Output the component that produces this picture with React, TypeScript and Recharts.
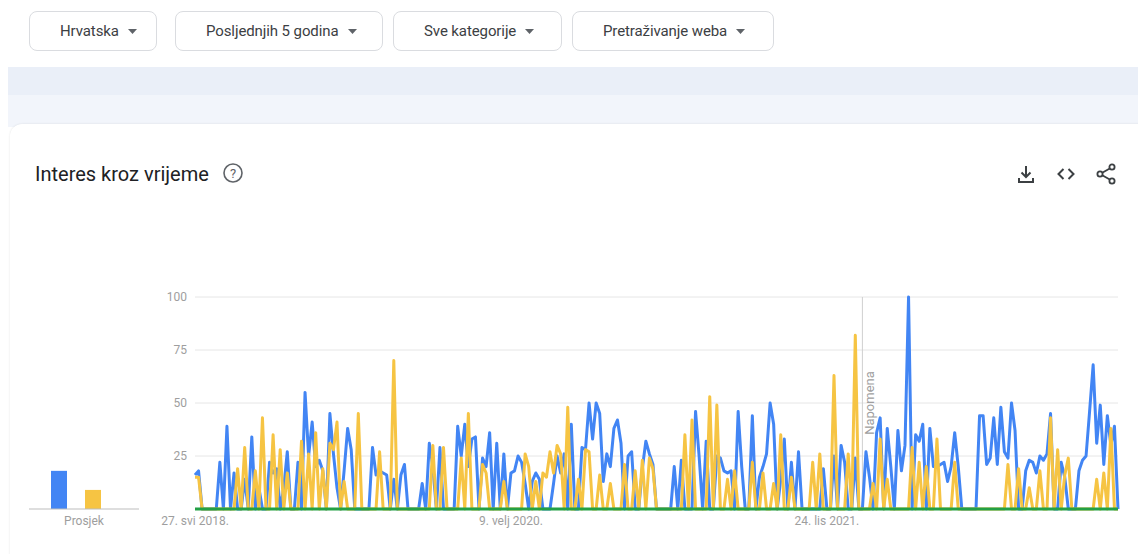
import React from "react";
import { LineChart, Line, XAxis, YAxis, CartesianGrid, ReferenceLine, BarChart, Bar } from "recharts";

// ---- data (weekly, 27 May 2018 onward) ----
const blueValues = [
  16, 18, 0, 0, 0, 0, 0, 22, 0, 39,
  0, 17, 0, 0, 14, 0, 34, 0, 10, 0,
  0, 22, 17, 19, 0, 10, 27, 0, 0, 22,
  0, 55, 25, 41, 20, 23, 18, 0, 45, 26,
  10, 0, 18, 38, 28, 0, 0, 0, 0, 0,
  29, 16, 18, 17, 16, 0, 14, 0, 16, 21,
  0, 0, 0, 0, 12, 0, 31, 20, 0, 29,
  0, 0, 0, 0, 39, 25, 40, 20, 33, 34,
  0, 24, 20, 36, 0, 31, 0, 26, 0, 17,
  18, 25, 22, 12, 0, 13, 17, 14, 0, 0,
  0, 12, 25, 17, 26, 0, 40, 0, 0, 29,
  28, 50, 33, 50, 45, 13, 26, 20, 38, 42,
  31, 0, 25, 27, 0, 0, 19, 32, 26, 21,
  0, 0, 0, 0, 0, 20, 0, 23, 0, 0,
  0, 46, 25, 0, 32, 0, 0, 25, 24, 18,
  17, 18, 0, 46, 20, 0, 0, 44, 0, 15,
  20, 26, 50, 40, 0, 14, 33, 0, 22, 0,
  27, 0, 0, 0, 0, 0, 0, 19, 0, 0,
  25, 0, 30, 22, 0, 0, 24, 0, 0, 27,
  15, 0, 36, 43, 0, 38, 20, 0, 37, 18,
  30, 100, 0, 35, 32, 40, 0, 38, 20, 20,
  21, 22, 13, 20, 36, 20, 0, 0, 0, 0,
  0, 44, 44, 21, 24, 43, 21, 48, 27, 24,
  50, 37, 0, 0, 18, 23, 22, 17, 25, 23,
  26, 45, 0, 0, 22, 15, 0, 0, 0, 18,
  23, 25, 46, 68, 31, 49, 21, 44, 30, 39,
  0,
];

const yellowValues = [
  15, 15, 0, 0, 0, 0, 0, 0, 0, 0,
  0, 0, 19, 0, 29, 0, 0, 18, 0, 43,
  0, 0, 35, 0, 28, 0, 17, 0, 0, 0,
  32, 0, 26, 0, 36, 0, 19, 0, 31, 28,
  41, 0, 13, 0, 0, 0, 45, 0, 0, 0,
  0, 0, 27, 0, 0, 0, 70, 0, 0, 0,
  0, 0, 0, 0, 0, 0, 0, 30, 0, 0,
  29, 0, 0, 0, 0, 24, 0, 45, 0, 0,
  0, 21, 17, 0, 0, 0, 0, 13, 0, 0,
  0, 0, 0, 26, 20, 0, 13, 0, 17, 15,
  27, 17, 30, 26, 0, 48, 0, 0, 14, 0,
  28, 27, 0, 0, 16, 0, 0, 12, 0, 0,
  0, 21, 0, 0, 18, 0, 23, 0, 24, 19,
  0, 0, 0, 0, 0, 0, 0, 0, 35, 0,
  42, 0, 0, 0, 0, 53, 0, 49, 0, 0,
  14, 0, 18, 0, 0, 0, 0, 22, 0, 0,
  17, 0, 0, 12, 0, 35, 0, 0, 15, 0,
  0, 0, 0, 0, 22, 0, 26, 0, 0, 0,
  63, 0, 0, 0, 26, 0, 82, 0, 0, 0,
  0, 12, 0, 33, 0, 14, 0, 0, 0, 0,
  0, 0, 29, 0, 22, 0, 20, 0, 0, 33,
  0, 0, 0, 0, 22, 0, 0, 0, 0, 0,
  0, 0, 0, 0, 0, 0, 0, 0, 0, 21,
  0, 0, 19, 0, 0, 10, 0, 0, 18, 0,
  0, 43, 0, 28, 0, 16, 24, 0, 0, 0,
  0, 0, 0, 0, 14, 0, 17, 0, 38, 0,
  0,
];

const greenValues = [
  0, 0, 0, 0, 0, 0, 0, 0, 0, 0,
  0, 0, 0, 0, 0, 0, 0, 0, 0, 0,
  0, 0, 0, 0, 0, 0, 0, 0, 0, 0,
  0, 0, 0, 0, 0, 0, 0, 0, 0, 0,
  0, 0, 0, 0, 0, 0, 0, 0, 0, 0,
  0, 0, 0, 0, 0, 0, 0, 0, 0, 0,
  0, 0, 0, 0, 0, 0, 0, 0, 0, 0,
  0, 0, 0, 0, 0, 0, 0, 0, 0, 0,
  0, 0, 0, 0, 0, 0, 0, 0, 0, 0,
  0, 0, 0, 0, 0, 0, 0, 0, 0, 0,
  0, 0, 0, 0, 0, 0, 0, 0, 0, 0,
  0, 0, 0, 0, 0, 0, 0, 0, 0, 0,
  0, 0, 0, 0, 0, 0, 0, 0, 0, 0,
  0, 0, 0, 0, 0, 0, 0, 0, 0, 0,
  0, 0, 0, 0, 0, 0, 0, 0, 0, 0,
  0, 0, 0, 0, 0, 0, 0, 0, 0, 0,
  0, 0, 0, 0, 0, 0, 0, 0, 0, 0,
  0, 0, 0, 0, 0, 0, 0, 0, 0, 0,
  0, 0, 0, 0, 0, 0, 0, 0, 0, 0,
  0, 0, 0, 0, 0, 0, 0, 0, 0, 0,
  0, 0, 0, 0, 0, 0, 0, 0, 0, 0,
  0, 0, 0, 0, 0, 0, 0, 0, 0, 0,
  0, 0, 0, 0, 0, 0, 0, 0, 0, 0,
  0, 0, 0, 0, 0, 0, 0, 0, 0, 0,
  0, 0, 0, 0, 0, 0, 0, 0, 0, 0,
  0, 0, 0, 0, 0, 0, 0, 0, 0, 0,
  0,
];

const xTickIndex = [0, 89, 178];
const xTickLabels = ["27. svi 2018.", "9. velj 2020.", "24. lis 2021."];
const yTicks = [25, 50, 75, 100];
const noteIndex = 188;
const noteLabel = "Napomena";

const averageCategories = ["Prosjek"];
const averageBlue = [18];
const averageYellow = [9];
const averageGreen = [0];

const filterLabels = ["Hrvatska", "Posljednjih 5 godina", "Sve kategorije", "Pretraživanje weba"];
const title = "Interes kroz vrijeme";

// ---- derived tables for the library ----
const lineData = blueValues.map((v, i) => ({
  week: i,
  blue: v,
  yellow: yellowValues[i],
  green: greenValues[i],
}));

const avgData = averageCategories.map((c, i) => ({
  name: c,
  blue: averageBlue[i],
  yellow: averageYellow[i],
  green: averageGreen[i],
}));

const BLUE = "#4285f4";
const YELLOW = "#f6c443";
const GREEN = "#23a045";
const FONT = "Roboto, 'Noto Sans', sans-serif";
const TICK_GRAY = "#9e9e9e";

const filterBoxes = [
  { left: 29, width: 128 },
  { left: 175, width: 208 },
  { left: 393, width: 169 },
  { left: 572, width: 202 },
];

const NoteLabel = (props: any) => {
  const vb = props.viewBox || {};
  const x = (vb.x || 0) + 12;
  const y = (vb.y || 0) + (vb.height || 0) / 2;
  return (
    <text
      x={x}
      y={y}
      transform={`rotate(-90 ${x} ${y})`}
      textAnchor="middle"
      fill="#9e9e9e"
      fontSize={13}
      fontFamily={FONT}
    >
      {noteLabel}
    </text>
  );
};

const Arrow = () => (
  <svg width="9" height="5" viewBox="0 0 9 5" style={{ display: "block" }}>
    <path d="M0 0 L9 0 L4.5 5 Z" fill="#5f6368" />
  </svg>
);

export default function App() {
  return (
    <div
      style={{
        position: "absolute",
        left: 0,
        top: 0,
        width: 1138,
        height: 554,
        background: "#ffffff",
        overflow: "hidden",
        fontFamily: FONT,
      }}
    >
      {/* filter dropdowns */}
      {filterLabels.map((label, i) => (
        <div
          key={label}
          style={{
            position: "absolute",
            left: filterBoxes[i].left,
            top: 11,
            width: filterBoxes[i].width,
            height: 40,
            boxSizing: "border-box",
            border: "1px solid #dadce0",
            borderRadius: 8,
            display: "flex",
            alignItems: "center",
            paddingLeft: 30,
            gap: 9,
            color: "#3c4043",
            fontSize: 15,
            letterSpacing: "-0.1px",
          }}
        >
          <span>{label}</span>
          <Arrow />
        </div>
      ))}

      {/* background bands */}
      <div style={{ position: "absolute", left: 8, top: 67, width: 1130, height: 28, background: "#eaeff8" }} />
      <div style={{ position: "absolute", left: 8, top: 95, width: 1130, height: 32, background: "#f2f5fb" }} />
      <div
        style={{
          position: "absolute",
          left: 10,
          top: 124,
          width: 1140,
          height: 440,
          background: "#ffffff",
          borderTopLeftRadius: 12,
          boxShadow: "0 0 2px rgba(60,64,67,0.15)",
        }}
      />

      {/* title */}
      <div
        style={{
          position: "absolute",
          left: 35,
          top: 161,
          fontSize: 20,
          color: "#202124",
          lineHeight: "26px",
          whiteSpace: "nowrap",
        }}
      >
        {title}
      </div>
      <svg style={{ position: "absolute", left: 222, top: 162 }} width="22" height="22" viewBox="0 0 22 22">
        <circle cx="11" cy="11" r="9" fill="none" stroke="#5f6368" strokeWidth="1.6" />
        <text x="11" y="15.5" textAnchor="middle" fontSize="13" fill="#5f6368" fontFamily={FONT}>?</text>
      </svg>

      {/* icons */}
      <svg style={{ position: "absolute", left: 1014, top: 162 }} width="24" height="24" viewBox="0 0 24 24">
        <path d="M12 4 V15 M7.5 10.5 L12 15 L16.5 10.5" fill="none" stroke="#3c4043" strokeWidth="2" />
        <path d="M5 16 V20 H19 V16" fill="none" stroke="#3c4043" strokeWidth="2" />
      </svg>
      <svg style={{ position: "absolute", left: 1054, top: 162 }} width="24" height="24" viewBox="0 0 24 24">
        <path d="M9.5 7 L4.5 12 L9.5 17 M14.5 7 L19.5 12 L14.5 17" fill="none" stroke="#3c4043" strokeWidth="2" />
      </svg>
      <svg style={{ position: "absolute", left: 1094, top: 162 }} width="24" height="24" viewBox="0 0 24 24">
        <path d="M16.2 6.3 L7.8 11 M7.8 13 L16.2 17.7" fill="none" stroke="#3c4043" strokeWidth="1.8" />
        <circle cx="18" cy="5" r="2.6" fill="#fff" stroke="#3c4043" strokeWidth="1.8" />
        <circle cx="6" cy="12" r="2.6" fill="#fff" stroke="#3c4043" strokeWidth="1.8" />
        <circle cx="18" cy="19" r="2.6" fill="#fff" stroke="#3c4043" strokeWidth="1.8" />
      </svg>

      {/* average bars */}
      <div style={{ position: "absolute", left: 0, top: 280 }}>
        <BarChart
          width={160}
          height={260}
          data={avgData}
          margin={{ top: 17, right: 21, left: 29, bottom: 6 }}
          barSize={16}
          barGap={18}
        >
          <XAxis
            dataKey="name"
            axisLine={{ stroke: "#bdbdbd" }}
            tickLine={false}
            tickSize={0}
            tickMargin={7}
            height={25}
            padding={{ left: 18, right: 0 }}
            tick={{ fill: TICK_GRAY, fontSize: 12, fontFamily: FONT, dx: -9 } as any}
          />
          <YAxis hide domain={[0, 100]} />
          <Bar dataKey="blue" fill={BLUE} isAnimationActive={false} />
          <Bar dataKey="yellow" fill={YELLOW} isAnimationActive={false} />
          <Bar dataKey="green" fill={GREEN} isAnimationActive={false} />
        </BarChart>
      </div>

      {/* main line chart */}
      <div style={{ position: "absolute", left: 140, top: 280 }}>
        <LineChart
          width={1000}
          height={260}
          data={lineData}
          margin={{ top: 17, right: 22, bottom: 6, left: 0 }}
        >
          <CartesianGrid vertical={false} stroke="#e6e6e6" />
          <XAxis
            dataKey="week"
            type="number"
            domain={[0, 260]}
            ticks={xTickIndex}
            interval={0}
            tickFormatter={(v: number) => xTickLabels[xTickIndex.indexOf(v)] ?? ""}
            axisLine={false}
            tickLine={false}
            tickSize={0}
            tickMargin={7}
            height={25}
            tick={{ fill: TICK_GRAY, fontSize: 12, fontFamily: FONT }}
          />
          <YAxis
            domain={[0, 100]}
            ticks={yTicks}
            width={55}
            axisLine={false}
            tickLine={false}
            tickSize={0}
            tickMargin={8}
            tick={{ fill: TICK_GRAY, fontSize: 12, fontFamily: FONT }}
          />
          <ReferenceLine x={noteIndex} stroke="#cfcfcf" strokeWidth={1} label={(p: any) => <NoteLabel {...p} />} />
          <Line type="linear" dataKey="blue" stroke={BLUE} strokeWidth={3} dot={false} isAnimationActive={false} strokeLinejoin="round" />
          <Line type="linear" dataKey="yellow" stroke={YELLOW} strokeWidth={3} dot={false} isAnimationActive={false} strokeLinejoin="round" />
          <Line type="linear" dataKey="green" stroke={GREEN} strokeWidth={3} dot={false} isAnimationActive={false} />
        </LineChart>
      </div>
    </div>
  );
}
